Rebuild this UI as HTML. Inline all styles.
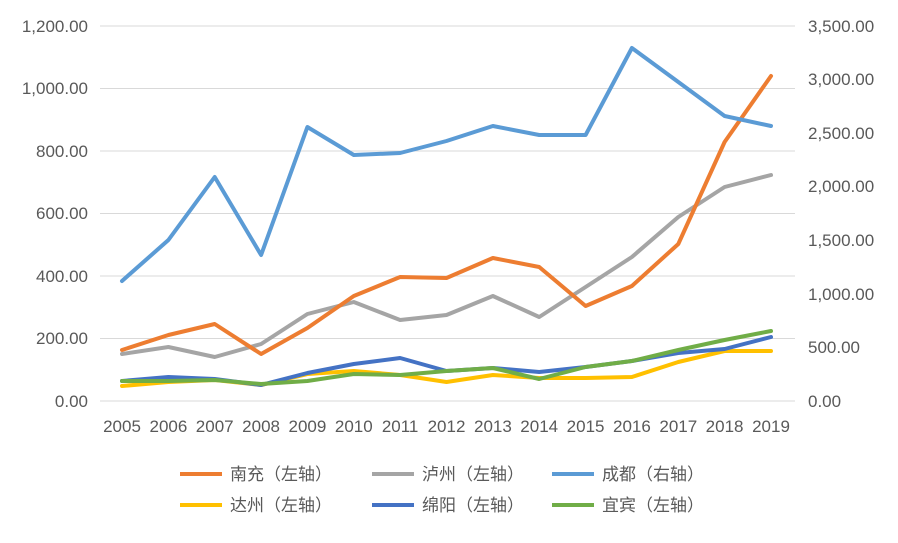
<!DOCTYPE html>
<html><head><meta charset="utf-8"><style>
html,body{margin:0;padding:0;background:#fff}
text{font-family:"Liberation Sans","Noto Sans CJK SC",sans-serif;fill:#595959;font-size:17px}
</style></head><body>
<svg width="898" height="538" viewBox="0 0 898 538" xmlns="http://www.w3.org/2000/svg">
<g stroke="#d9d9d9" stroke-width="1">
<line x1="100" x2="795" y1="26" y2="26"/><line x1="100" x2="795" y1="88.5" y2="88.5"/>
<line x1="100" x2="795" y1="151" y2="151"/><line x1="100" x2="795" y1="213.5" y2="213.5"/>
<line x1="100" x2="795" y1="276" y2="276"/><line x1="100" x2="795" y1="338.5" y2="338.5"/>
<line x1="100" x2="795" y1="401" y2="401"/>
</g>
<g text-anchor="end">
<text x="88" y="32">1,200.00</text><text x="88" y="94">1,000.00</text><text x="88" y="157">800.00</text>
<text x="88" y="219">600.00</text><text x="88" y="282">400.00</text><text x="88" y="344">200.00</text><text x="88" y="407">0.00</text>
</g>
<g>
<text x="808" y="32">3,500.00</text><text x="808" y="85">3,000.00</text><text x="808" y="139">2,500.00</text>
<text x="808" y="192">2,000.00</text><text x="808" y="246">1,500.00</text><text x="808" y="300">1,000.00</text>
<text x="808" y="353">500.00</text><text x="808" y="407">0.00</text>
</g>
<g text-anchor="middle">
<text x="122" y="432">2005</text><text x="168.4" y="432">2006</text><text x="214.7" y="432">2007</text><text x="261.1" y="432">2008</text><text x="307.4" y="432">2009</text><text x="353.8" y="432">2010</text><text x="400.1" y="432">2011</text><text x="446.5" y="432">2012</text><text x="492.9" y="432">2013</text><text x="539.2" y="432">2014</text><text x="585.6" y="432">2015</text><text x="631.9" y="432">2016</text><text x="678.3" y="432">2017</text><text x="724.6" y="432">2018</text><text x="771" y="432">2019</text>
</g>
<g fill="none" stroke-width="4" stroke-linejoin="round" stroke-linecap="round">
<polyline stroke="#FFC000" points="122,386 168.4,382 214.7,380 261.1,385 307.4,374 353.8,371 400.1,375 446.5,382 492.9,375 539.2,378 585.6,378 631.9,377 678.3,362 724.6,351 771,351"/>
<polyline stroke="#4472C4" points="122,381 168.4,377 214.7,379 261.1,385 307.4,373 353.8,364 400.1,358 446.5,371 492.9,368 539.2,372 585.6,367 631.9,361 678.3,353 724.6,349 771,337"/>
<polyline stroke="#70AD47" points="122,381 168.4,381 214.7,380 261.1,384 307.4,381 353.8,374 400.1,375 446.5,371 492.9,368 539.2,379 585.6,367 631.9,361 678.3,350 724.6,340 771,331"/>
<polyline stroke="#A5A5A5" points="122,354 168.4,347 214.7,357 261.1,344 307.4,314 353.8,302 400.1,320 446.5,315 492.9,296 539.2,317 585.6,287 631.9,257 678.3,217 724.6,187 771,175"/>
<polyline stroke="#ED7D31" points="122,350 168.4,335 214.7,324 261.1,354 307.4,328 353.8,296 400.1,277 446.5,278 492.9,258 539.2,267 585.6,306 631.9,286 678.3,244 724.6,142 771,76"/>
<polyline stroke="#5B9BD5" points="122,281 168.4,240 214.7,177 261.1,255 307.4,127 353.8,155 400.1,153 446.5,141 492.9,126 539.2,135 585.6,135 631.9,48 678.3,82 724.6,116 771,126"/>
</g>
<g stroke-width="4">
<line x1="180" x2="222" y1="474" y2="474" stroke="#ED7D31"/>
<line x1="372" x2="414" y1="474" y2="474" stroke="#A5A5A5"/>
<line x1="552" x2="594" y1="474" y2="474" stroke="#5B9BD5"/>
<line x1="180" x2="222" y1="505" y2="505" stroke="#FFC000"/>
<line x1="372" x2="414" y1="505" y2="505" stroke="#4472C4"/>
<line x1="552" x2="594" y1="505" y2="505" stroke="#70AD47"/>
</g>
<g>
<text x="230" y="480">南充（左轴）</text><text x="422" y="480">泸州（左轴）</text><text x="602" y="480">成都（右轴）</text>
<text x="230" y="511">达州（左轴）</text><text x="422" y="511">绵阳（左轴）</text><text x="602" y="511">宜宾（左轴）</text>
</g>
</svg>
</body></html>
